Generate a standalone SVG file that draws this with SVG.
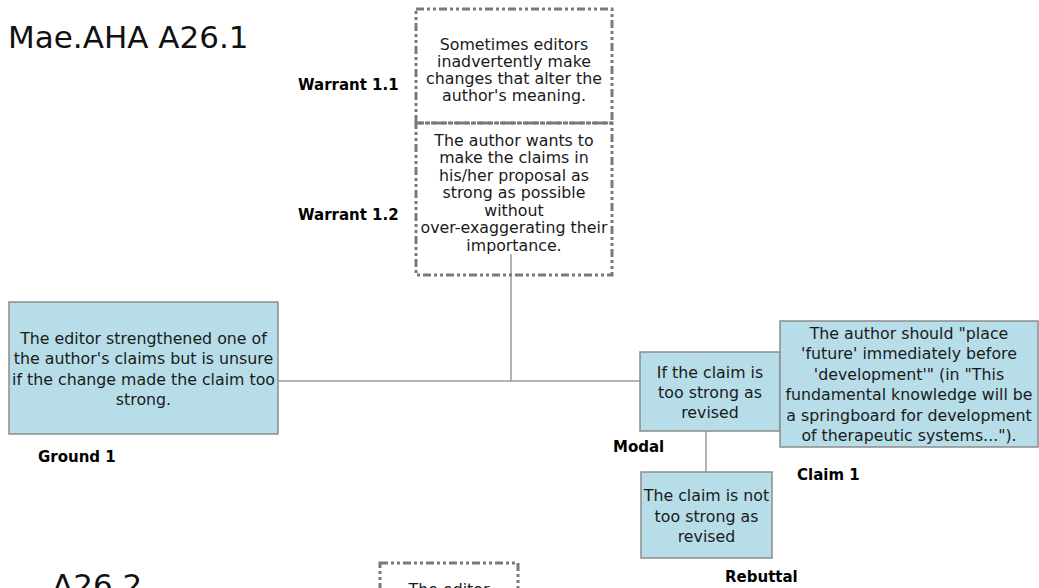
<svg xmlns="http://www.w3.org/2000/svg" width="1039" height="588" viewBox="0 0 1039 588">
  <style>
    .title { font-family: "DejaVu Sans", Verdana, sans-serif; font-size: 31px; fill: #111; }
    .body { font-family: "DejaVu Sans", Verdana, sans-serif; font-size: 15.8px; fill: #1a1a1a; text-anchor: middle; }
    .label { font-family: "DejaVu Sans", Verdana, sans-serif; font-size: 15px; font-weight: bold; fill: #000; }
    .solid { fill: #b7dde8; stroke: #8c8c8c; stroke-width: 1.5; }
    .dashed { fill: none; stroke: #7a7a7a; stroke-width: 3; stroke-dasharray: 8 3 3 3 3 3; }
    .conn { stroke: #9a9a9a; stroke-width: 1.5; fill: none; }
  </style>

  <rect width="1039" height="588" fill="#ffffff"/>

  <text class="title" x="8" y="48">Mae.AHA A26.1</text>

  <g id="connectors">
    <line class="conn" x1="511" y1="254" x2="511" y2="381"/>
    <line class="conn" x1="278" y1="381" x2="640" y2="381"/>
    <line class="conn" x1="706" y1="431" x2="706" y2="472"/>
  </g>

  <g id="warrant-1-1">
    <rect class="dashed" x="416" y="9" width="196" height="114"/>
    <text class="body" x="514" y="50">Sometimes editors</text>
    <text class="body" x="514" y="67">inadvertently make</text>
    <text class="body" x="514" y="84">changes that alter the</text>
    <text class="body" x="514" y="101">author's meaning.</text>
    <text class="label" x="298" y="90">Warrant 1.1</text>
  </g>

  <g id="warrant-1-2">
    <rect class="dashed" x="416" y="123" width="196" height="152"/>
    <text class="body" x="514" y="145.5">The author wants to</text>
    <text class="body" x="514" y="163">make the claims in</text>
    <text class="body" x="514" y="180.5">his/her proposal as</text>
    <text class="body" x="514" y="198">strong as possible</text>
    <text class="body" x="514" y="215.5">without</text>
    <text class="body" x="514" y="233">over-exaggerating their</text>
    <text class="body" x="514" y="250.5">importance.</text>
    <text class="label" x="298" y="220">Warrant 1.2</text>
  </g>

  <g id="ground-1">
    <rect class="solid" x="9" y="302" width="269" height="132"/>
    <text class="body" x="143.5" y="343.5">The editor strengthened one of</text>
    <text class="body" x="143.5" y="364">the author's claims but is unsure</text>
    <text class="body" x="143.5" y="384.5">if the change made the claim too</text>
    <text class="body" x="143.5" y="405">strong.</text>
    <text class="label" x="38" y="462">Ground 1</text>
  </g>

  <g id="modal">
    <rect class="solid" x="640" y="352" width="140" height="79"/>
    <text class="body" x="710" y="378">If the claim is</text>
    <text class="body" x="710" y="398">too strong as</text>
    <text class="body" x="710" y="418">revised</text>
    <text class="label" x="613" y="452">Modal</text>
  </g>

  <g id="claim-1">
    <rect class="solid" x="780" y="321" width="258" height="126"/>
    <text class="body" x="909" y="338.5">The author should "place</text>
    <text class="body" x="909" y="359">'future' immediately before</text>
    <text class="body" x="909" y="379.5">'development'" (in "This</text>
    <text class="body" x="909" y="400">fundamental knowledge will be</text>
    <text class="body" x="909" y="420.5">a springboard for development</text>
    <text class="body" x="909" y="441">of therapeutic systems...").</text>
    <text class="label" x="797" y="480">Claim 1</text>
  </g>

  <g id="rebuttal">
    <rect class="solid" x="641" y="472" width="131" height="86"/>
    <text class="body" x="706.5" y="501">The claim is not</text>
    <text class="body" x="706.5" y="522">too strong as</text>
    <text class="body" x="706.5" y="542">revised</text>
    <text class="label" x="725" y="582">Rebuttal</text>
  </g>

  <text class="title" x="52" y="596">A26.2</text>

  <g id="warrant-2-1">
    <rect class="dashed" x="380" y="563" width="138" height="60"/>
    <text class="body" x="449" y="595">The editor</text>
  </g>
</svg>
